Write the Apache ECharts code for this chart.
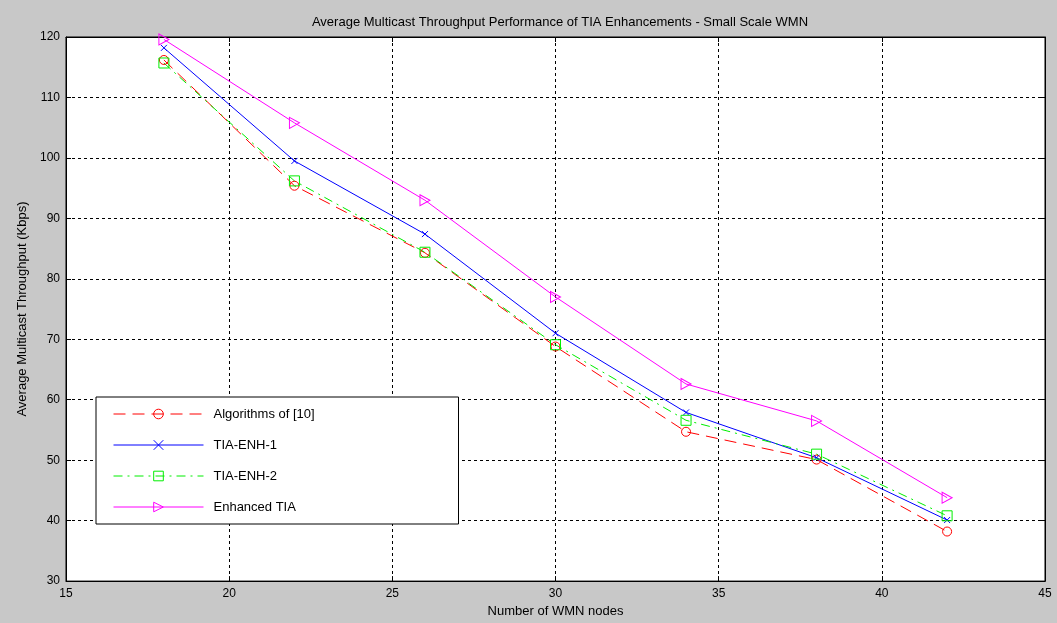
<!DOCTYPE html>
<html>
<head>
<meta charset="utf-8">
<script src="https://cdn.jsdelivr.net/npm/echarts@6/dist/echarts.min.js"></script>
<style>
html,body{margin:0;padding:0;background:#c8c8c8;}
#chart{width:1057px;height:623px;}
</style>
</head>
<body>
<div id="chart"></div>
<script>
const nodes = [18, 22, 26, 30, 34, 38, 42];
const algorithms10 = [116.2, 95.4, 84.3, 68.8, 54.7, 50.1, 38.2];
const tiaEnh1 = [118.2, 99.5, 87.4, 71.0, 57.9, 50.4, 40.1];
const tiaEnh2 = [115.7, 96.2, 84.4, 69.1, 56.6, 51.0, 40.8];
const enhancedTia = [119.6, 105.8, 93.0, 77.0, 62.6, 56.5, 43.8];
const seriesNames = ['Algorithms of [10]', 'TIA-ENH-1', 'TIA-ENH-2', 'Enhanced TIA'];
const titleText = 'Average Multicast Throughput Performance of TIA Enhancements - Small Scale WMN';
const xName = 'Number of WMN nodes';
const yName = 'Average Multicast Throughput (Kbps)';

const FONT = "'Liberation Sans', Arial, sans-serif";
const pair = (ys) => nodes.map((x, i) => [x, ys[i]]);

const chart = echarts.init(document.getElementById('chart'), null, {renderer: 'canvas'});

const axisCommon = {
  axisLine: {show: true, lineStyle: {color: '#000', width: 1}},
  axisTick: {show: true, inside: true, length: 5, lineStyle: {color: '#000'}},
  axisLabel: {color: '#000', fontFamily: FONT, fontSize: 12},
};

function mkSeries(name, data, color, lineType, symbol, size) {
  return {
    name: name, type: 'line', data: pair(data),
    xAxisIndex: 0, yAxisIndex: 0,
    symbol: symbol, symbolSize: size,
    showSymbol: true,
    lineStyle: {color: color, width: 1, type: lineType},
    itemStyle: {color: 'rgba(255,255,255,0)', borderColor: color, borderWidth: 1},
    emphasis: {disabled: true},
    animation: false,
    z: 3
  };
}

const option = {
  backgroundColor: '#c8c8c8',
  animation: false,
  title: {
    text: titleText,
    left: 555, top: 11, textAlign: 'center',
    textStyle: {fontFamily: FONT, fontSize: 13, fontWeight: 'normal', color: '#000'}
  },
  grid: {
    left: 66, right: 12, top: 37, bottom: 36,
    show: true, backgroundColor: '#fff', borderColor: '#000', borderWidth: 1
  },
  legend: {
    orient: 'vertical',
    left: 96, top: 397,
    backgroundColor: '#fff', borderColor: '#000', borderWidth: 1,
    padding: [10, 10, 10, 17],
    itemWidth: 90, itemHeight: 12, itemGap: 17,
    itemStyle: {borderWidth: 1},
    lineStyle: {width: 1},
    textStyle: {fontFamily: FONT, fontSize: 13, color: '#000',
                lineHeight: 14, width: 235, padding: [0, 0, 0, 5]},
    data: seriesNames,
    selectedMode: false
  },
  xAxis: [
    Object.assign({}, axisCommon, {
      type: 'value', min: 15, max: 45, interval: 5, position: 'bottom',
      name: xName, nameLocation: 'middle', nameGap: 20,
      nameTextStyle: {fontFamily: FONT, fontSize: 13, color: '#000'},
      axisLabel: {color: '#000', fontFamily: FONT, fontSize: 12, margin: 7},
      splitLine: {show: true, lineStyle: {color: '#000', type: [3, 3], width: 1}}
    }),
    Object.assign({}, axisCommon, {
      type: 'value', min: 15, max: 45, interval: 5, position: 'top',
      axisLabel: {show: false}, splitLine: {show: false}
    })
  ],
  yAxis: [
    Object.assign({}, axisCommon, {
      type: 'value', min: 30, max: 120, interval: 10, position: 'left',
      name: yName, nameLocation: 'middle', nameGap: 33, nameRotate: 90,
      nameTextStyle: {fontFamily: FONT, fontSize: 13, color: '#000'},
      axisLabel: {color: '#000', fontFamily: FONT, fontSize: 12, margin: 6},
      splitLine: {show: true, lineStyle: {color: '#000', type: [3, 3], width: 1}}
    }),
    Object.assign({}, axisCommon, {
      type: 'value', min: 30, max: 120, interval: 10, position: 'right',
      axisLabel: {show: false}, splitLine: {show: false}
    })
  ],
  series: [
    mkSeries(seriesNames[0], algorithms10, '#ff0000', [12, 7], 'circle', 9),
    mkSeries(seriesNames[1], tiaEnh1, '#0000ff', 'solid', 'path://M0,0L10,10M10,0L0,10', 6),
    mkSeries(seriesNames[2], tiaEnh2, '#00ee00', [9, 5, 2, 5], 'rect', 10),
    mkSeries(seriesNames[3], enhancedTia, '#ff00ff', 'solid', 'path://M0,0L10,5L0,10Z', [10, 11])
  ]
};
chart.setOption(option);
</script>
</body>
</html>
